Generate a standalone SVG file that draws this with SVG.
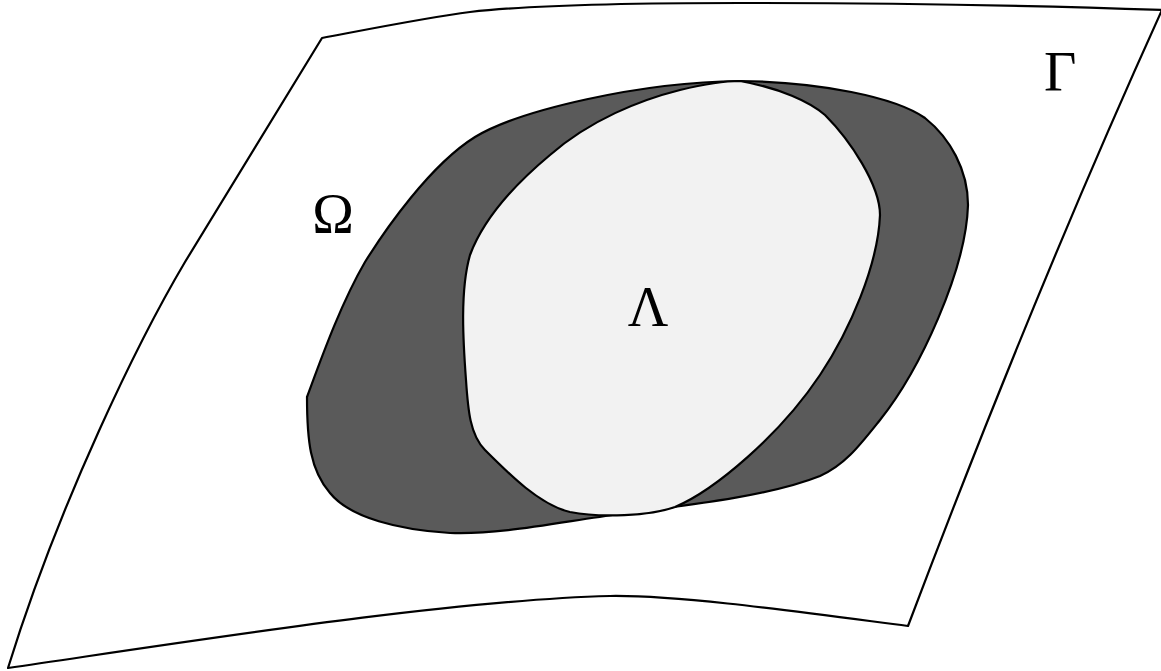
<svg xmlns="http://www.w3.org/2000/svg" width="1161" height="671" viewBox="0 0 1161 671">
<style>
.ln{stroke:#000;stroke-width:2.2;stroke-linejoin:round}
.lbl{font-family:"Liberation Serif","DejaVu Serif",serif;font-size:56px;fill:#000}
</style>
<rect width="1161" height="671" fill="#fff"/>
<g id="surface">
<path class="ln" fill="#fff" d="M322,38 C380,27 430,17 470,12 C530,5 620,3 740,3 C900,3 1050,6 1162,10 Q1035,290 908,626 C800,612 680,595 610,596 C450,600 200,640 8,668 C60,500 140,338 185,262 Z"/>
<text class="lbl" x="1044" y="91">Γ</text>
</g>
<g id="omega">
<path class="ln" fill="#5a5a5a" d="M307,397 C320,362 340,305 365,262 C385,230 430,165 475,137 C520,110 640,82 740,81 C820,82 895,97 925,118 C950,138 968,170 968,205 C966,270 920,370 880,420 C860,445 845,465 820,476 C770,496 690,505 620,514 C560,522 500,535 450,533 C400,530 350,518 330,493 C310,470 307,440 307,397 Z"/>
<text class="lbl" x="333" y="233" text-anchor="middle">Ω</text>
</g>
<g id="lambda">
<path class="ln" fill="#f2f2f2" d="M740,81 C780,88 810,102 825,115 C850,140 880,185 880,215 C878,265 850,330 820,375 C780,435 715,490 675,507 C650,516 600,518 570,512 C540,505 510,475 485,450 C470,435 468,410 466,380 C463,340 460,290 470,255 C485,215 520,180 550,155 C590,120 640,100 680,90 C705,84 725,81 740,81 Z"/>
<text class="lbl" x="648" y="326" text-anchor="middle">Λ</text>
</g>
<g id="connectors"/>
</svg>
